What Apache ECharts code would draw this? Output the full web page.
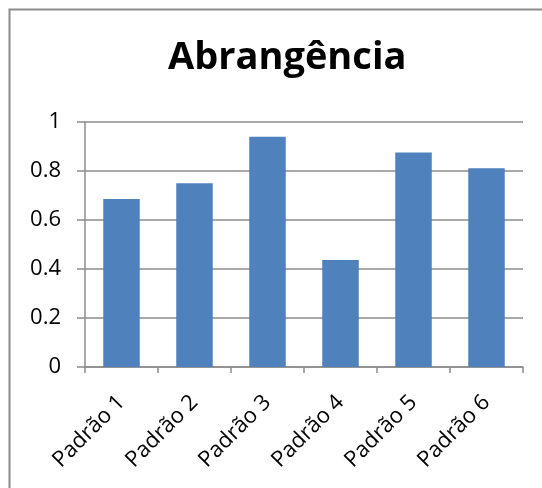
<!DOCTYPE html>
<html>
<head>
<meta charset="utf-8">
<script src="https://cdn.jsdelivr.net/npm/echarts@6/dist/echarts.min.js"></script>
<style>
  html, body { margin: 0; padding: 0; background: #fff; }
  #chart { width: 542px; height: 488px; }
</style>
</head>
<body>
<div id="chart"></div>
<script>
// Coverage per pattern
const categories = ['Padrão 1', 'Padrão 2', 'Padrão 3', 'Padrão 4', 'Padrão 5', 'Padrão 6'];
const coverage = [0.686, 0.75, 0.94, 0.437, 0.876, 0.811];
const titleText = 'Abrangência';

const chart = echarts.init(document.getElementById('chart'));
chart.setOption({
  animation: false,
  backgroundColor: '#ffffff',
  title: {
    text: titleText,
    left: 163,
    top: 34,
    textStyle: {
      fontFamily: 'Open Sans',
      fontWeight: 'bold',
      fontSize: 38,
      color: '#000'
    }
  },
  graphic: [{
    type: 'rect',
    shape: { x: 9.5, y: 9.5, width: 700, height: 700 },
    style: { fill: 'none', stroke: '#8c8c8c', lineWidth: 2 },
    silent: true
  }],
  grid: { left: 85, right: 19, top: 122, bottom: 121, containLabel: false },
  xAxis: {
    type: 'category',
    data: categories,
    axisLine: { lineStyle: { color: '#8c8c8c', width: 1.5 } },
    axisTick: { show: true, length: 6, lineStyle: { color: '#8c8c8c', width: 1.5 } },
    axisLabel: {
      rotate: 45,
      interval: 0,
      fontFamily: 'Open Sans',
      fontSize: 22,
      color: '#000',
      margin: 32
    }
  },
  yAxis: {
    type: 'value',
    min: 0,
    max: 1,
    interval: 0.2,
    axisLine: { show: true, lineStyle: { color: '#8c8c8c', width: 1.5 } },
    axisTick: { show: true, length: 8, lineStyle: { color: '#8c8c8c', width: 1.5 } },
    splitLine: { lineStyle: { color: '#8c8c8c', width: 1.5 } },
    axisLabel: {
      fontFamily: 'Open Sans',
      fontSize: 22,
      color: '#000',
      margin: 24,
      formatter: v => String(Math.round(v * 10) / 10)
    }
  },
  series: [{
    type: 'bar',
    data: coverage,
    barWidth: '50%',
    itemStyle: { color: '#4f81bd' }
  }]
});
</script>
</body>
</html>
